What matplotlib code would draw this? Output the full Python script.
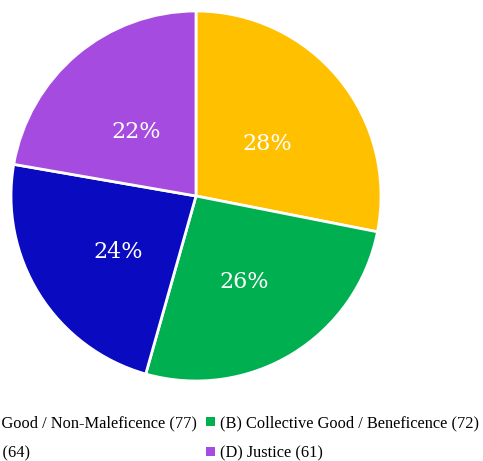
import matplotlib
matplotlib.use("Agg")
import matplotlib.pyplot as plt
from matplotlib.patches import Patch

labels = [
    "(A) Individual Good / Non-Maleficence (77)",
    "(B) Collective Good / Beneficence (72)",
    "(C) Autonomy (64)",
    "(D) Justice (61)",
]
values = [77, 72, 64, 61]
pct_labels = ["28%", "26%", "24%", "22%"]
colors = ["#FFC000", "#00B050", "#0A0AC0", "#A64BE0"]

plt.rcParams["font.family"] = ["Liberation Serif", "DejaVu Serif"]

fig = plt.figure(figsize=(4.83, 4.61), dpi=100)
ax = fig.add_axes([11 / 483, 80 / 461, 370 / 483, 370 / 461])

wedges, texts, autotexts = ax.pie(
    values,
    colors=colors,
    startangle=90,
    counterclock=False,
    autopct="%1.0f%%",
    pctdistance=0.5,
    wedgeprops={"edgecolor": "white", "linewidth": 2},
    textprops={"color": "white", "fontsize": 16, "family": "DejaVu Serif"},
)
for t, s in zip(autotexts, pct_labels):
    t.set_text(s)
    x, y = t.get_position()
    t.set_position((x, y - 0.038))
ax.set_xlim(-1, 1)
ax.set_ylim(-1, 1)
ax.set_aspect("equal")

# matplotlib fills legend columns first; reorder so rows read A B / C D
order = [0, 2, 1, 3]
handles = [Patch(facecolor=colors[i], edgecolor="none") for i in order]
fig.legend(
    handles,
    [labels[i] for i in order],
    ncol=2,
    loc="lower left",
    bbox_to_anchor=(-126 / 483, -15 / 461),
    frameon=False,
    fontsize=11.8,
    handlelength=0.55,
    handleheight=0.55,
    handletextpad=0.3,
    columnspacing=0.6,
    labelspacing=0.85,
)

fig.savefig("out.png", dpi=100)
